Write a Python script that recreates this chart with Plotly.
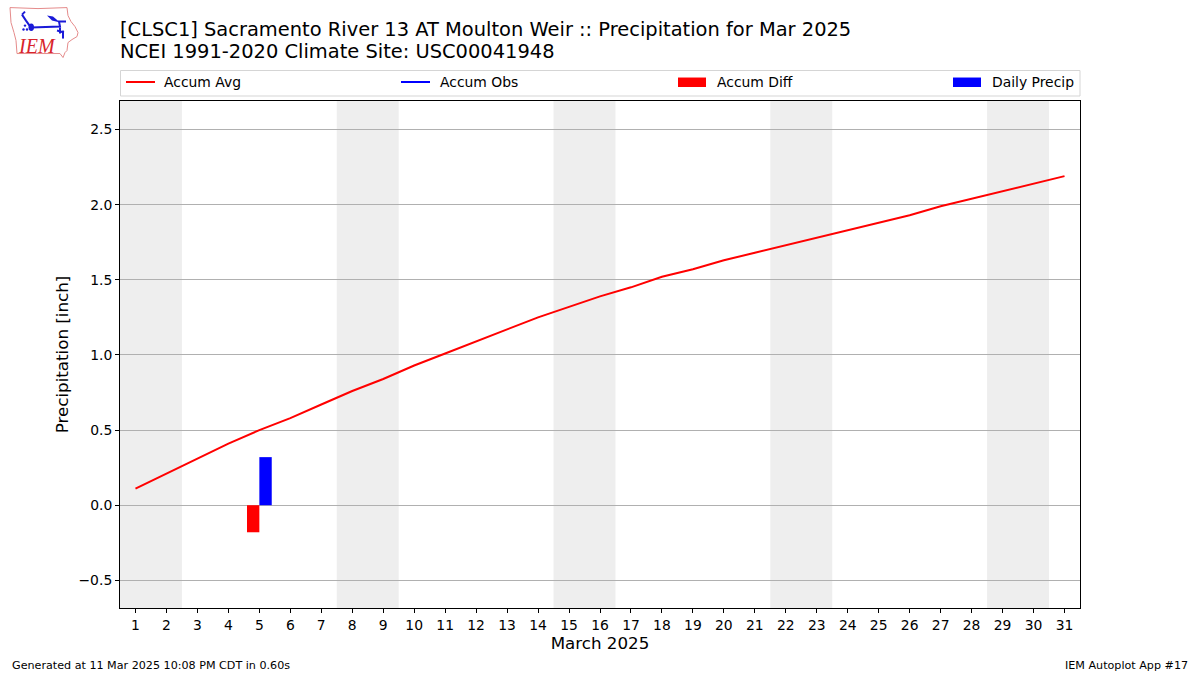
import plotly.graph_objs as go

W = 1200
H = 675
LEFT = 120
RIGHT = 1080
TOP = 100.5
BOTTOM = 608
FONT = "DejaVu Sans"

days = list(range(1, 32))
accum_avg = [0.11, 0.21, 0.31, 0.41, 0.50, 0.58, 0.67, 0.76, 0.84, 0.93,
             1.01, 1.09, 1.17, 1.25, 1.32, 1.39, 1.45, 1.52, 1.57, 1.63,
             1.68, 1.73, 1.78, 1.83, 1.88, 1.93, 1.99, 2.04, 2.09, 2.14, 2.19]
obs_days = [5]
accum_obs = [0.32]
accum_diff = [-0.18]
daily_precip = [0.32]
weekend_starts = [1, 8, 15, 22, 29]
y_ticks = [-0.5, 0.0, 0.5, 1.0, 1.5, 2.0, 2.5]
y_tick_labels = ["\u22120.5", "0.0", "0.5", "1.0", "1.5", "2.0", "2.5"]


# paper coords count from the plot area, so convert from page pixels
def px(x):
    return (x - LEFT) / (RIGHT - LEFT)


def py(y):
    return 1 - (y - TOP) / (BOTTOM - TOP)


def path(points, close=False):
    d = "M" + " L".join(f"{px(x):.5f},{py(y):.5f}" for x, y in points)
    return d + (" Z" if close else "")


fig = go.Figure()

fig.add_trace(go.Scatter(x=days, y=accum_avg, mode="lines", name="Accum Avg",
                         line=dict(color="#ff0000", width=2), showlegend=False))
fig.add_trace(go.Scatter(x=obs_days, y=accum_obs, mode="lines", name="Accum Obs",
                         line=dict(color="#0000ff", width=2), showlegend=False))
fig.add_trace(go.Bar(x=obs_days, y=accum_diff, width=0.4, offset=-0.4, name="Accum Diff",
                     marker=dict(color="#ff0000", line_width=0), showlegend=False))
fig.add_trace(go.Bar(x=obs_days, y=daily_precip, width=0.4, offset=0, name="Daily Precip",
                     marker=dict(color="#0000ff", line_width=0), showlegend=False))

shapes = []
for start in weekend_starts:
    shapes.append(dict(type="rect", xref="x", yref="paper", x0=start - 0.5, x1=start + 1.5,
                       y0=0, y1=1, fillcolor="#eeeeee", line_width=0, layer="below"))

# legend box and keys
shapes.append(dict(type="rect", xref="paper", yref="paper", x0=px(120.5), x1=px(1080),
                   y0=py(95.5), y1=py(70), fillcolor="white",
                   line=dict(color="#d5d5d5", width=1)))
shapes.append(dict(type="line", xref="paper", yref="paper", x0=px(126), x1=px(155),
                   y0=py(81.5), y1=py(81.5), line=dict(color="#ff0000", width=2)))
shapes.append(dict(type="line", xref="paper", yref="paper", x0=px(401), x1=px(430),
                   y0=py(81.5), y1=py(81.5), line=dict(color="#0000ff", width=2)))
shapes.append(dict(type="rect", xref="paper", yref="paper", x0=px(678), x1=px(706),
                   y0=py(86.5), y1=py(77), fillcolor="#ff0000", line_width=0))
shapes.append(dict(type="rect", xref="paper", yref="paper", x0=px(953), x1=px(981),
                   y0=py(86.5), y1=py(77), fillcolor="#0000ff", line_width=0))

# IEM logo
logo_outline = [(10, 7), (38, 8), (67, 7), (68, 15), (71, 21), (75, 26), (78, 32), (77, 36),
                (72, 39), (68, 42), (67, 50), (65, 52), (63, 57), (60, 53), (40, 53),
                (17, 53), (16, 40), (14, 32), (11, 22)]
shapes.append(dict(type="path", xref="paper", yref="paper", path=path(logo_outline, True),
                   fillcolor="white", line=dict(color="#e58b8b", width=1)))
logo_lines = [
    [(31, 27), (60, 26), (59, 21), (66, 21)],
    [(31, 27), (26, 20), (22, 14)],
    [(22, 14), (25, 11)],
    [(60, 27), (60, 33)],
    [(57, 30), (64, 32)],
    [(63, 30), (63, 38)],
]
for pts in logo_lines:
    shapes.append(dict(type="path", xref="paper", yref="paper", path=path(pts),
                       line=dict(color="#1a1ad8", width=2)))
shapes.append(dict(type="path", xref="paper", yref="paper",
                   path=path([(47, 15), (53, 16), (60, 22), (52, 20)], True),
                   fillcolor="#1a1ad8", line_width=0))
shapes.append(dict(type="circle", xref="paper", yref="paper", x0=px(28.5), x1=px(34),
                   y0=py(30.5), y1=py(23), fillcolor="#1a1ad8", line_width=0))
for dx, dy in [(25, 25), (23.5, 29), (27, 29)]:
    shapes.append(dict(type="circle", xref="paper", yref="paper", x0=px(dx - 1.2), x1=px(dx + 1.2),
                       y0=py(dy + 1.2), y1=py(dy - 1.2), fillcolor="#1a1ad8", line_width=0))

annotations = []


def add_text(x, y, text, size, anchor="left", color="black", family=FONT):
    annotations.append(dict(xref="paper", yref="paper", x=px(x), y=py(y), text=text,
                            showarrow=False, xanchor=anchor, yanchor="middle",
                            font=dict(family=family, size=size, color=color),
                            borderpad=0, borderwidth=0))


add_text(120, 29, "[CLSC1] Sacramento River 13 AT Moulton Weir :: Precipitation for Mar 2025", 19.45)
add_text(120, 50.5, "NCEI 1991-2020 Climate Site: USC00041948", 19.45)
add_text(164, 81.5, "Accum Avg", 13.9)
add_text(440, 81.5, "Accum Obs", 13.9)
add_text(717, 81.5, "Accum Diff", 13.9)
add_text(992, 81.5, "Daily Precip", 13.9)
add_text(12, 666, "Generated at 11 Mar 2025 10:08 PM CDT in 0.60s", 11.15)
add_text(1188, 666, "IEM Autoplot App #17", 11.15, anchor="right")
add_text(37, 45, "<i>IEM</i>", 20, anchor="center", color="#d8232a", family="Liberation Serif")

fig.update_layout(
    width=W,
    height=H,
    margin=dict(l=LEFT, r=W - RIGHT, t=TOP, b=H - BOTTOM, pad=0),
    paper_bgcolor="white",
    plot_bgcolor="white",
    barmode="overlay",
    showlegend=False,
    font=dict(family=FONT, size=13.9, color="black"),
    shapes=shapes,
    annotations=annotations,
    xaxis=dict(
        range=[0.5, 31.5],
        tickmode="array",
        tickvals=days,
        ticktext=[str(d) for d in days],
        ticks="outside",
        ticklen=4,
        tickwidth=1,
        tickcolor="black",
        showgrid=False,
        zeroline=False,
        showline=True,
        linecolor="black",
        linewidth=1,
        mirror=True,
        title=dict(text="March 2025", font=dict(size=16.7), standoff=5),
    ),
    yaxis=dict(
        range=[-0.684, 2.69],
        tickmode="array",
        tickvals=y_ticks,
        ticktext=y_tick_labels,
        ticks="outside",
        ticklen=4,
        tickwidth=1,
        tickcolor="black",
        showgrid=True,
        gridcolor="#b0b0b0",
        gridwidth=1,
        zeroline=False,
        showline=True,
        linecolor="black",
        linewidth=1,
        mirror=True,
        title=dict(text="Precipitation [inch]", font=dict(size=16.7), standoff=5),
    ),
)

fig.write_html("out.html", config=dict(displayModeBar=False),
               post_script="document.body.style.margin='0';")
